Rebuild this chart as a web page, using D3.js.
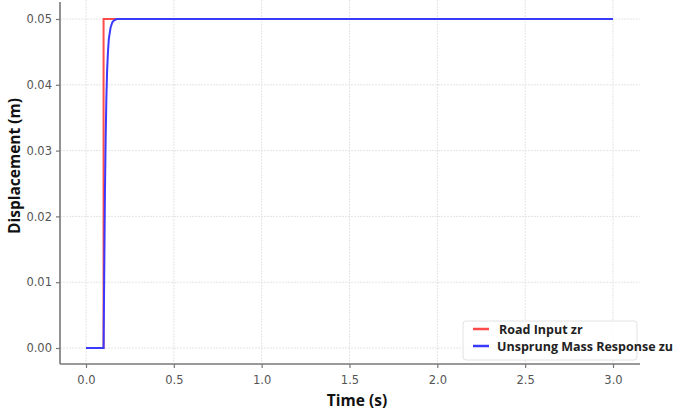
<!DOCTYPE html>
<html>
<head>
<meta charset="utf-8">
<script src="https://cdn.jsdelivr.net/npm/d3@7"></script>
<style>
  body { margin: 0; background: #fff; }
  svg { display: block; }
</style>
</head>
<body>
<div id="chart"></div>
<script>
// values
const roadTime = [0, 0.1, 0.1, 3.0];
const roadInput = [0, 0, 0.05, 0.05];

const massTime = [0, 0.1, 0.104, 0.108, 0.112, 0.116, 0.12, 0.125, 0.13, 0.14, 0.15, 0.16, 0.175, 0.2, 3.0];
const massResponse = [0, 0, 0.012, 0.024, 0.032, 0.038, 0.042, 0.045, 0.047, 0.0487, 0.0495, 0.0498, 0.05, 0.05, 0.05];

const xTicks = [0, 0.5, 1.0, 1.5, 2.0, 2.5, 3.0];
const yTicks = [0, 0.01, 0.02, 0.03, 0.04, 0.05];

const seriesNames = ["Road Input zr", "Unsprung Mass Response zu"];
const seriesColors = ["#ff4a4a", "#3a3aff"];

const width = 677, height = 413;

const svg = d3.select("#chart").append("svg")
  .attr("width", width)
  .attr("height", height);

const x = d3.scaleLinear().domain([0, 3]).range([86, 613]);
const y = d3.scaleLinear().domain([0, 0.05]).range([348, 19]);

// plot frame limits
const frameLeft = 60, frameRight = 640, frameTop = 2, frameBottom = 364;

// grid
svg.append("g").selectAll("line.vgrid")
  .data(xTicks).enter().append("line")
  .attr("x1", d => x(d)).attr("x2", d => x(d))
  .attr("y1", 0).attr("y2", frameBottom)
  .attr("stroke", "#e4e4e4").attr("stroke-width", 1)
  .attr("stroke-dasharray", "2,1");

svg.append("g").selectAll("line.hgrid")
  .data(yTicks).enter().append("line")
  .attr("x1", frameLeft).attr("x2", frameRight)
  .attr("y1", d => y(d)).attr("y2", d => y(d))
  .attr("stroke", "#e4e4e4").attr("stroke-width", 1)
  .attr("stroke-dasharray", "2,1");

// axes
const xAxis = d3.axisBottom(x).tickValues(xTicks).tickFormat(d3.format(".1f")).tickSize(4).tickSizeOuter(0);
const yAxis = d3.axisLeft(y).tickValues(yTicks).tickFormat(d3.format(".2f")).tickSize(4).tickSizeOuter(0);

const gx = svg.append("g").attr("transform", `translate(0,${frameBottom})`).call(xAxis);
const gy = svg.append("g").attr("transform", `translate(${frameLeft},0)`).call(yAxis);

[gx, gy].forEach(g => {
  g.select(".domain").remove();
  g.selectAll(".tick line").attr("stroke", "#777").attr("stroke-width", 1.2);
  g.selectAll(".tick text")
    .attr("fill", "#555")
    .attr("font-family", "'DejaVu Sans', sans-serif")
    .attr("font-size", 11.5);
});
gx.selectAll(".tick text").attr("dy", "1.1em");
gy.selectAll(".tick text").attr("x", -8);

svg.append("line")
  .attr("x1", frameLeft).attr("x2", frameRight).attr("y1", frameBottom).attr("y2", frameBottom)
  .attr("stroke", "#777").attr("stroke-width", 1.6);
svg.append("line")
  .attr("x1", frameLeft).attr("x2", frameLeft).attr("y1", frameTop).attr("y2", frameBottom)
  .attr("stroke", "#777").attr("stroke-width", 1.6);

// lines
const line = d3.line().x(d => x(d[0])).y(d => y(d[1]));

svg.append("path")
  .datum(d3.zip(roadTime, roadInput))
  .attr("d", line)
  .attr("fill", "none")
  .attr("stroke", seriesColors[0])
  .attr("stroke-width", 2);

svg.append("path")
  .datum(d3.zip(massTime, massResponse))
  .attr("d", line)
  .attr("fill", "none")
  .attr("stroke", seriesColors[1])
  .attr("stroke-width", 2);

// axis labels
svg.append("text")
  .attr("x", 357).attr("y", 406)
  .attr("text-anchor", "middle")
  .attr("font-family", "'Open Sans', sans-serif")
  .attr("font-weight", "bold")
  .attr("font-size", 15.5)
  .attr("fill", "#111")
  .text("Time (s)");

svg.append("text")
  .attr("transform", "translate(20,166) rotate(-90)")
  .attr("text-anchor", "middle")
  .attr("font-family", "'Open Sans', sans-serif")
  .attr("font-weight", "bold")
  .attr("font-size", 15.5)
  .attr("fill", "#111")
  .text("Displacement (m)");

// legend
const legend = svg.append("g").attr("transform", "translate(463,321)");
legend.append("rect")
  .attr("width", 174).attr("height", 39)
  .attr("rx", 3)
  .attr("fill", "#fff")
  .attr("fill-opacity", 0.85)
  .attr("stroke", "#e2e2e2");

const items = legend.selectAll("g.item")
  .data(seriesNames).enter().append("g")
  .attr("transform", (d, i) => `translate(0,${8 + i * 17})`);

items.append("line")
  .attr("x1", 10).attr("x2", 26)
  .attr("stroke", (d, i) => seriesColors[i])
  .attr("stroke-width", 2.5);

items.append("text")
  .attr("x", (d, i) => i === 0 ? 36 : 34)
  .attr("y", 4.5)
  .attr("font-family", "'Open Sans', sans-serif")
  .attr("font-weight", "bold")
  .attr("font-size", 12.5)
  .attr("fill", "#222")
  .text(d => d);
</script>
</body>
</html>
